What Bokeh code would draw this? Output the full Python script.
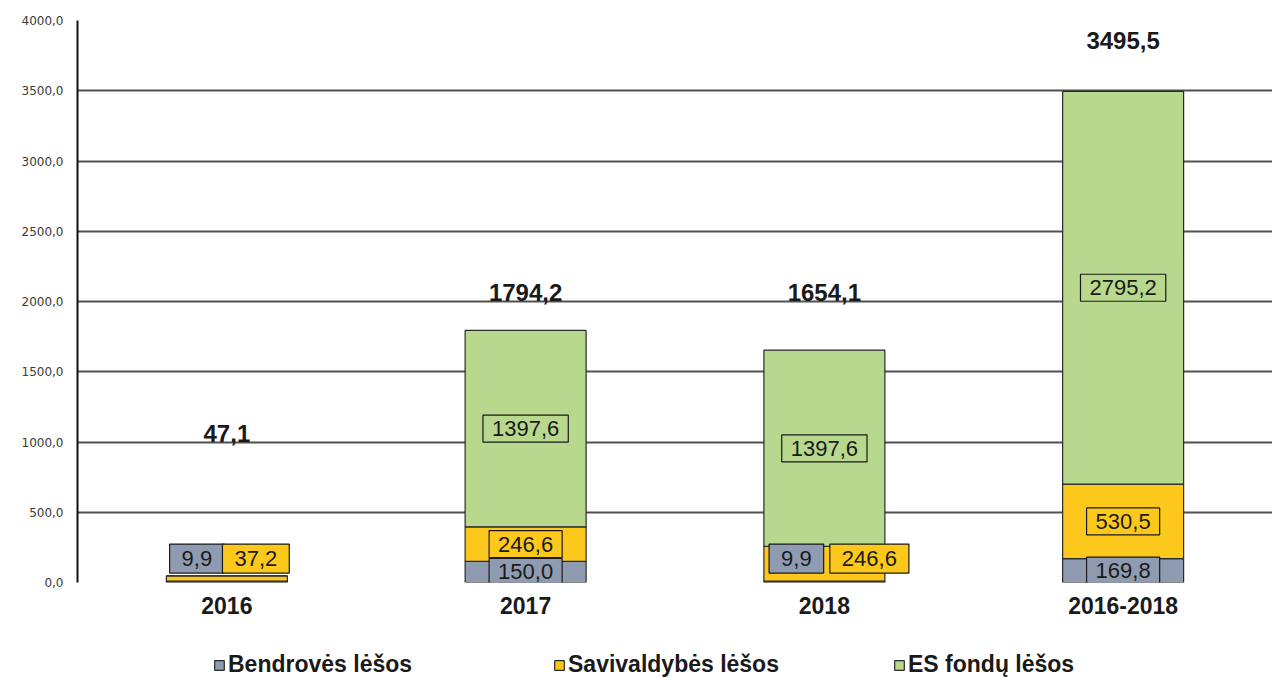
from bokeh.plotting import figure
from bokeh.models import (ColumnDataSource, FactorRange, Range1d, FixedTicker,
                          CustomJSTickFormatter, Legend, LegendItem)
from bokeh.layouts import column
from bokeh.core.properties import value
from bokeh.embed import file_html
from bokeh.resources import INLINE

# ---------------- data ----------------
categories = ["2016", "2017", "2018", "2016-2018"]
bendroves = [9.9, 150.0, 9.9, 169.8]
savivaldybes = [37.2, 246.6, 246.6, 530.5]
es_fondu = [0.0, 1397.6, 1397.6, 2795.2]
totals = [47.1, 1794.2, 1654.1, 3495.5]
series_names = ["Bendrovės lėšos", "Savivaldybės lėšos", "ES fondų lėšos"]
y_ticks = [0, 500, 1000, 1500, 2000, 2500, 3000, 3500, 4000]

# ---------------- style ----------------
colors = ["#8f9bb0", "#fcc81c", "#b7d88d"]
FONT = "Liberation Sans"

def fmt(v):
    return f"{v:.1f}".replace(".", ",")

p = figure(x_range=FactorRange(*categories, range_padding=0),
           y_range=Range1d(0, 4000),
           width=1272, height=646, output_backend="svg", toolbar_location=None,
           min_border_left=77, min_border_right=0, min_border_top=20,
           min_border_bottom=64)
p.outline_line_color = None
p.background_fill_color = "white"
p.border_fill_color = "white"

src = ColumnDataSource(dict(cat=categories, b=bendroves, s=savivaldybes, e=es_fondu))
rs = p.vbar_stack(["b", "s", "e"], x="cat", width=0.405, source=src,
                  fill_color=colors, line_color="#2a2a2a", line_width=1.2)

# axes
p.yaxis.ticker = FixedTicker(ticks=y_ticks)
p.yaxis.formatter = CustomJSTickFormatter(code="return tick.toFixed(1).replace('.', ',');")
p.yaxis.major_label_text_font = "DejaVu Sans"
p.yaxis.major_label_text_font_size = "12px"
p.yaxis.major_label_text_color = "#3a3a3a"
p.yaxis.major_tick_out = 0
p.yaxis.major_tick_in = 0
p.yaxis.minor_tick_out = 0
p.yaxis.minor_tick_in = 0
p.yaxis.axis_line_color = "#111111"
p.yaxis.axis_line_width = 2
p.yaxis.major_label_standoff = 14

p.xaxis.axis_line_color = None
p.xaxis.major_tick_out = 0
p.xaxis.major_tick_in = 0
p.xaxis.major_label_text_font = FONT
p.xaxis.major_label_text_font_style = "bold"
p.xaxis.major_label_text_font_size = "23px"
p.xaxis.major_label_text_color = "#1a1a1a"
p.xaxis.major_label_standoff = 14

p.xgrid.grid_line_color = None
p.ygrid.grid_line_color = "#505050"
p.ygrid.grid_line_width = 2

# ---------------- boxed value labels ----------------
cx, cy, ct, cf = [], [], [], []          # labels centred in their segments
sx, sy, st, sxo, sf = [], [], [], [], []  # labels side by side under small stacks
for i, c in enumerate(categories):
    b, s, e = bendroves[i], savivaldybes[i], es_fondu[i]
    if c in ("2016", "2018"):
        off = (-30, 29) if c == "2016" else (-28, 45)
        sx += [c, c]; sy += [170, 170]; st += [fmt(b), fmt(s)]
        sxo += list(off); sf += [colors[0], colors[1]]
    else:
        cx += [c, c]; cy += [b / 2, b + s / 2]; ct += [fmt(b), fmt(s)]
        cf += [colors[0], colors[1]]
    if e > 0:
        cx.append(c); cy.append(b + s + e / 2); ct.append(fmt(e)); cf.append(colors[2])

csrc = ColumnDataSource(dict(x=cx, y=cy, t=ct, f=cf))
p.text(x="x", y="y", text="t", source=csrc,
       text_font=value(FONT), text_font_size="22px", text_color="#1a1a1a",
       text_align="center", text_baseline="middle",
       background_fill_color="f", border_line_color="#1a1a1a",
       border_line_width=1.2, padding=(9, 6))

ssrc = ColumnDataSource(dict(x=sx, y=sy, t=st, xo=sxo, f=sf))
p.text(x="x", y="y", text="t", x_offset="xo", source=ssrc,
       text_font=value(FONT), text_font_size="22px", text_color="#1a1a1a",
       text_align="center", text_baseline="middle",
       background_fill_color="f", border_line_color="#1a1a1a",
       border_line_width=1.2, padding=(12, 7))

# ---------------- totals ----------------
total_label_y = [1060, 2064, 2064, 3858]
tsrc = ColumnDataSource(dict(x=categories, y=total_label_y, t=[fmt(v) for v in totals]))
p.text(x="x", y="y", text="t", source=tsrc,
       text_font=value(FONT), text_font_style="bold", text_font_size="24px",
       text_color="#1a1a1a", text_align="center", text_baseline="middle")

# ---------------- legend strip ----------------
pl = figure(width=1272, height=32, output_backend="svg", toolbar_location=None,
            x_range=Range1d(0, 1), y_range=Range1d(0, 1),
            x_axis_type=None, y_axis_type=None,
            min_border_left=0, min_border_right=0, min_border_top=0, min_border_bottom=0)
pl.outline_line_color = None
pl.xgrid.grid_line_color = None
pl.ygrid.grid_line_color = None
# legend-only swatch renderers, kept outside the visible range
dummies = [pl.vbar(x=[-1], top=[-1], bottom=[-1], width=0.01,
                   fill_color=c, line_color="#2a2a2a", line_width=1.2)
           for c in colors]
legend = Legend(items=[LegendItem(label=n, renderers=[r]) for n, r in zip(series_names, dummies)],
                orientation="horizontal", location=(136, 0),
                glyph_width=12, glyph_height=12, label_standoff=3,
                label_width=325, label_height=24, spacing=0, padding=0, margin=0,
                label_text_font=FONT, label_text_font_style="bold",
                label_text_font_size="23px", label_text_color="#1a1a1a",
                border_line_color=None, background_fill_alpha=0)
pl.add_layout(legend)

open("out.html", "w").write(file_html(column(p, pl, spacing=0), INLINE))
